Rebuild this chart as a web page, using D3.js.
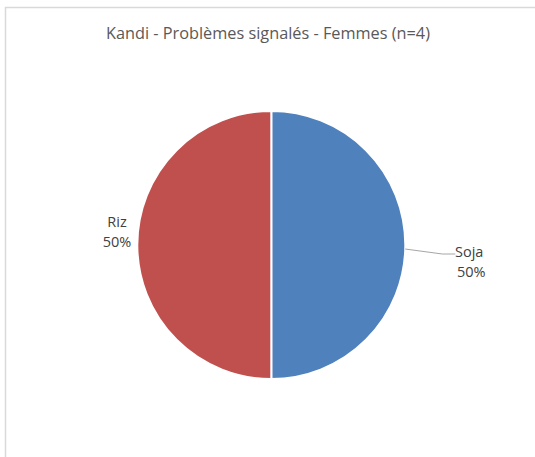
<!DOCTYPE html>
<html><head><meta charset="utf-8">
<script src="https://cdn.jsdelivr.net/npm/d3@7"></script>
<style>body{margin:0;background:#fff}svg{display:block}</style>
</head><body>
<script>
const title = "Kandi - Problèmes signalés - Femmes (n=4)";
const categories = ["Soja", "Riz"];
const values = [2, 2];
const percentLabels = ["50%", "50%"];
const colors = ["#4F81BD", "#C0504D"];

const W = 535, H = 457;
const svg = d3.select("body").append("svg").attr("width", W).attr("height", H);
svg.append("rect").attr("x", 5.5).attr("y", 7.5).attr("width", 540).attr("height", 470)
  .attr("fill", "#fff").attr("stroke", "#d9d9d9").attr("stroke-width", 1.5);

svg.append("text").attr("x", 268).attr("y", 38.5).attr("text-anchor", "middle")
  .attr("font-family", "Open Sans, sans-serif").attr("font-size", 16.3).attr("fill", "#595959")
  .text(title);

const cx = 271.3, cy = 245, r = 134;
const data = categories.map((c, i) => ({cat: c, value: values[i], pct: percentLabels[i], color: colors[i]}));
const pie = d3.pie().value(d => d.value).sort(null);
const arcs = pie(data);
const arc = d3.arc().innerRadius(0).outerRadius(r);
const g = svg.append("g").attr("transform", `translate(${cx},${cy})`);
g.selectAll("path").data(arcs).join("path").attr("d", arc)
  .attr("fill", d => d.data.color).attr("stroke", "#fff").attr("stroke-width", 2);

const font = "Open Sans, sans-serif";
// Soja label with leader line
const a0 = arcs[0];
const ang = Math.PI / 2 + 0.03;
const p1 = [Math.sin(ang) * r, -Math.cos(ang) * r];
g.append("polyline")
  .attr("points", [[p1[0], p1[1]], [171, 9], [184, 9]].map(p => p.join(",")).join(" "))
  .attr("fill", "none").attr("stroke", "#a6a6a6").attr("stroke-width", 1);
const sl = svg.append("text").attr("font-family", font).attr("font-size", 14.5).attr("fill", "#404040");
sl.append("tspan").attr("x", 455).attr("y", 257).text(a0.data.cat);
sl.append("tspan").attr("x", 457).attr("y", 277).text(a0.data.pct);

const a1 = arcs[1];
const rl = svg.append("text").attr("font-family", font).attr("font-size", 14.5).attr("fill", "#404040")
  .attr("text-anchor", "middle");
rl.append("tspan").attr("x", 117).attr("y", 227).text(a1.data.cat);
rl.append("tspan").attr("x", 117).attr("y", 247).text(a1.data.pct);
</script>
</body></html>
